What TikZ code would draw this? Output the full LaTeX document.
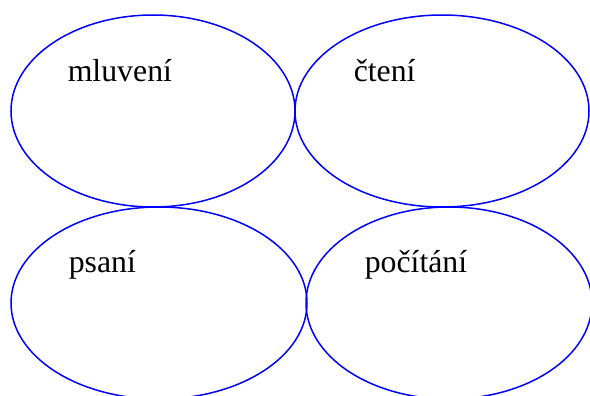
\documentclass[tikz,border=0pt]{standalone}
\usepackage{fontspec}
\setmainfont{Liberation Serif}
\usetikzlibrary{shapes.geometric}
\definecolor{ovalblue}{HTML}{0000FF}

\begin{document}
\begin{tikzpicture}[x=1pt, y=-1pt, line width=1.5pt,
  oval/.style={ellipse, draw=ovalblue, inner sep=0pt, minimum height=192pt},
  word/.style={anchor=base west, inner sep=0pt, font=\fontsize{31.8}{38}\selectfont}]
  \useasboundingbox (0,0) rectangle (590,396);
  \clip (0,0) rectangle (590,396);
  % ovals
  \node[oval, minimum width=284pt] (mluv) at (153,111) {};
  \node[oval, minimum width=294pt] (cten) at (442,111) {};
  \node[oval, minimum width=296pt] (psan) at (159,303) {};
  \node[oval, minimum width=286pt] (poci) at (449,303) {};
  % words
  \node[word] (mluvt) at (67,82) {mluvení};
  \node[word] (ctent) at (353,82) {čtení};
  \node[word] (psant) at (68,272) {psaní};
  \node[word] (pocit) at (364,272) {počítání};
\end{tikzpicture}
\end{document}
